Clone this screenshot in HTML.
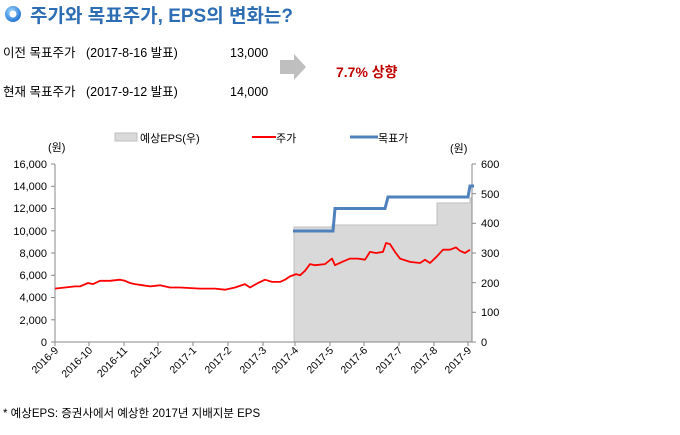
<!DOCTYPE html>
<html><head><meta charset="utf-8"><style>
body{margin:0;background:#fff;width:680px;height:430px;overflow:hidden;font-family:"Liberation Sans","Noto Sans CJK KR",sans-serif}
</style></head><body>
<svg width="680" height="430" xmlns="http://www.w3.org/2000/svg" font-family="Liberation Sans, Noto Sans CJK KR, sans-serif">
<defs><radialGradient id="g" cx="40%" cy="35%" r="70%"><stop offset="0" stop-color="#9fd8ff"/><stop offset="1" stop-color="#1a6fd0"/></radialGradient></defs>
<circle cx="13" cy="14" r="8" fill="url(#g)"/><circle cx="13" cy="14" r="3.5" fill="#fff"/>
<text x="30" y="22" font-size="19" font-weight="bold" fill="#2c6db3">주가와 목표주가, EPS의 변화는?</text>
<g font-size="12.5" fill="#000">
<text x="3" y="57">이전 목표주가</text><text x="86" y="57">(2017-8-16 발표)</text><text x="230" y="57">13,000</text>
<text x="3" y="96">현재 목표주가</text><text x="86" y="96">(2017-9-12 발표)</text><text x="230" y="96">14,000</text>
</g>
<polygon points="280,60 294,60 294,54 306,67 294,80 294,74 280,74" fill="#bfbfbf"/>
<text x="336" y="77" font-size="14" font-weight="bold" fill="#c00000">7.7%  상향</text>
<!-- legend -->
<rect x="115" y="133" width="22" height="8" fill="#d9d9d9" stroke="#bfbfbf"/>
<text x="140" y="142" font-size="11">예상EPS(우)</text>
<line x1="252" y1="137" x2="276" y2="137" stroke="#f00" stroke-width="2"/>
<text x="276" y="142" font-size="11">주가</text>
<line x1="350" y1="137" x2="378" y2="137" stroke="#4f81bd" stroke-width="3"/>
<text x="378" y="142" font-size="11">목표가</text>
<text x="48" y="151" font-size="11">(원)</text>
<text x="450" y="152" font-size="11">(원)</text>
<!-- EPS area -->
<polygon points="294,342 294,227 332,227 332,225 437,225 437,203 470,203 470,198 472,198 472,342" fill="#d9d9d9" stroke="#bfbfbf" stroke-width="1"/>
<!-- axes -->
<line x1="55" y1="164" x2="55" y2="342" stroke="#888"/>
<line x1="472" y1="164" x2="472" y2="342" stroke="#888"/>
<line x1="55" y1="342" x2="472" y2="342" stroke="#888"/>
<g stroke="#888">
<line x1="51" y1="164" x2="55" y2="164"/><line x1="51" y1="186.3" x2="55" y2="186.3"/><line x1="51" y1="208.5" x2="55" y2="208.5"/><line x1="51" y1="230.8" x2="55" y2="230.8"/><line x1="51" y1="253" x2="55" y2="253"/><line x1="51" y1="275.3" x2="55" y2="275.3"/><line x1="51" y1="297.5" x2="55" y2="297.5"/><line x1="51" y1="319.8" x2="55" y2="319.8"/><line x1="51" y1="342" x2="55" y2="342"/>
<line x1="472" y1="164" x2="476" y2="164"/><line x1="472" y1="193.7" x2="476" y2="193.7"/><line x1="472" y1="223.3" x2="476" y2="223.3"/><line x1="472" y1="253" x2="476" y2="253"/><line x1="472" y1="282.7" x2="476" y2="282.7"/><line x1="472" y1="312.3" x2="476" y2="312.3"/><line x1="472" y1="342" x2="476" y2="342"/>
<line x1="55" y1="342" x2="55" y2="346"/><line x1="89" y1="342" x2="89" y2="346"/><line x1="124" y1="342" x2="124" y2="346"/><line x1="158" y1="342" x2="158" y2="346"/><line x1="193" y1="342" x2="193" y2="346"/><line x1="228" y1="342" x2="228" y2="346"/><line x1="263" y1="342" x2="263" y2="346"/><line x1="295" y1="342" x2="295" y2="346"/><line x1="330" y1="342" x2="330" y2="346"/><line x1="364" y1="342" x2="364" y2="346"/><line x1="399" y1="342" x2="399" y2="346"/><line x1="434" y1="342" x2="434" y2="346"/><line x1="468" y1="342" x2="468" y2="346"/>
</g>
<g font-size="11" text-anchor="end">
<text x="47" y="168">16,000</text><text x="47" y="190">14,000</text><text x="47" y="212">12,000</text><text x="47" y="235">10,000</text><text x="47" y="257">8,000</text><text x="47" y="279">6,000</text><text x="47" y="301">4,000</text><text x="47" y="324">2,000</text><text x="47" y="346">0</text>
</g>
<g font-size="11">
<text x="481" y="168">600</text><text x="481" y="198">500</text><text x="481" y="227">400</text><text x="481" y="257">300</text><text x="481" y="287">200</text><text x="481" y="316">100</text><text x="481" y="346">0</text>
</g>
<g font-size="10.5" text-anchor="end">
<text transform="translate(59,351) rotate(-45)">2016-9</text>
<text transform="translate(93,351) rotate(-45)">2016-10</text>
<text transform="translate(128,351) rotate(-45)">2016-11</text>
<text transform="translate(162,351) rotate(-45)">2016-12</text>
<text transform="translate(197,351) rotate(-45)">2017-1</text>
<text transform="translate(232,351) rotate(-45)">2017-2</text>
<text transform="translate(267,351) rotate(-45)">2017-3</text>
<text transform="translate(299,351) rotate(-45)">2017-4</text>
<text transform="translate(334,351) rotate(-45)">2017-5</text>
<text transform="translate(368,351) rotate(-45)">2017-6</text>
<text transform="translate(403,351) rotate(-45)">2017-7</text>
<text transform="translate(438,351) rotate(-45)">2017-8</text>
<text transform="translate(472,351) rotate(-45)">2017-9</text>
</g>
<!-- target -->
<polyline points="293,231 333,231 335,208.5 385,208.5 388,197 468,197 470,186 474,186" fill="none" stroke="#4f81bd" stroke-width="3"/>
<!-- price -->
<polyline fill="none" stroke="#f00" stroke-width="1.8" stroke-linejoin="round" points="55,288.6 65,287.5 75,286.4 80,286.4 88,283 93,284.1 100,280.8 110,280.8 120,279.7 125,280.8 130,283 135,284.1 143,285.3 150,286.4 160,285.3 170,287.5 180,287.5 200,288.6 215,288.6 225,289.7 235,287.5 245,284.1 250,287.5 258,283 265,279.7 272,281.9 280,281.9 285,279.7 290,276.4 296,274.1 300,275.3 305,270.8 310,264.1 315,265.2 325,264.1 332,258.6 335,265.2 342,261.9 350,258.6 358,258.6 365,259.7 370,251.9 376,253 383,251.9 386,243 390,244.1 395,251.9 400,258.6 410,261.9 420,263 425,259.7 430,263 437,256.3 443,249.7 450,249.7 456,247.4 460,250.8 465,253 470,249.7"/>
<text x="3" y="417" font-size="11.5">* 예상EPS: 증권사에서 예상한 2017년 지배지분 EPS</text>
</svg>
</body></html>
